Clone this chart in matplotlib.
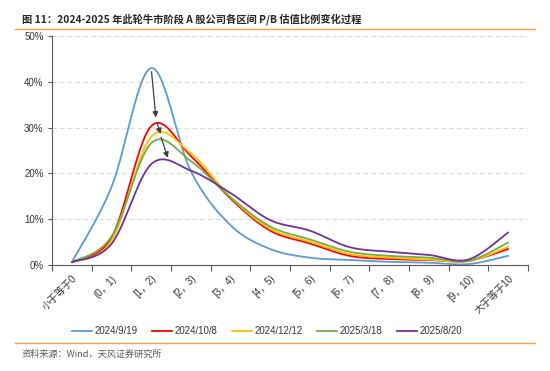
import numpy as np
import matplotlib
matplotlib.use("Agg")
import matplotlib.pyplot as plt
from matplotlib.lines import Line2D

plt.rcParams['font.family'] = ['Liberation Sans', 'Noto Sans CJK SC', 'DejaVu Sans']

# ---------- 数据 ----------
categories = ["小于等于0", "(0，1)", "[1，2)", "[2，3)", "[3，4)", "[4，5)",
              "[5，6)", "[6，7)", "[7，8)", "[8，9)", "[9，10)", "大于等于10"]

series_names = ["2024/9/19", "2024/10/8", "2024/12/12", "2025/3/18", "2025/8/20"]
colors = ["#5B9BD5", "#FF0000", "#FFC000", "#70AD47", "#7030A0"]

v_20240919 = [0.6, 17.0, 43.0, 20.5, 8.7, 3.5, 1.6, 1.1, 0.7, 0.5, 0.2, 2.0]
v_20241008 = [0.6, 6.0, 30.3, 23.8, 14.5, 7.5, 4.7, 2.0, 1.3, 1.1, 0.9, 3.5]
v_20241212 = [0.6, 5.3, 28.0, 24.4, 14.8, 7.9, 5.1, 2.4, 1.6, 1.2, 0.8, 4.0]
v_20250318 = [0.6, 6.2, 26.6, 22.7, 14.8, 8.4, 5.6, 2.9, 2.0, 1.6, 0.9, 4.9]
v_20250820 = [0.6, 4.6, 22.0, 20.6, 15.7, 9.8, 7.5, 3.9, 2.9, 2.2, 1.2, 7.1]
all_values = [v_20240919, v_20241008, v_20241212, v_20250318, v_20250820]


def smooth(y, n=30):
    # Excel 风格平滑线 (Catmull-Rom -> Bezier)
    x = np.arange(len(y), dtype=float)
    y = np.asarray(y, dtype=float) / 100
    xs, ys = [], []
    t = np.linspace(0, 1, n)
    for i in range(len(y) - 1):
        i0 = max(i - 1, 0)
        i3 = min(i + 2, len(y) - 1)
        p1 = np.array([x[i], y[i]])
        p2 = np.array([x[i + 1], y[i + 1]])
        c1 = p1 + (p2 - np.array([x[i0], y[i0]])) / 6
        c2 = p2 - (np.array([x[i3], y[i3]]) - p1) / 6
        b = ((1 - t) ** 3)[:, None] * p1 + (3 * (1 - t) ** 2 * t)[:, None] * c1 \
            + (3 * (1 - t) * t ** 2)[:, None] * c2 + (t ** 3)[:, None] * p2
        xs.extend(b[:, 0])
        ys.extend(b[:, 1])
    return np.array(xs), np.array(ys)


fig = plt.figure(figsize=(5.5, 3.71), dpi=100)
ax = fig.add_axes([0.0945, 0.2857, 0.8655, 0.6173])

for vals, c, name in zip(all_values, colors, series_names):
    xs, ys = smooth(vals)
    ax.plot(xs, ys, color=c, lw=1.3, label=name, solid_capstyle='round')

# 箭头
arrows = [((2.01, 0.422), (2.12, 0.322)),
          ((2.15, 0.310), (2.24, 0.286)),
          ((2.25, 0.279), (2.42, 0.234))]
for (x0, y0), (x1, y1) in arrows:
    ax.annotate("", xy=(x1, y1), xytext=(x0, y0),
                arrowprops=dict(arrowstyle="-|>", color="#404040", lw=0.9,
                                mutation_scale=8, shrinkA=0, shrinkB=0))

ax.set_xlim(-0.5, 11.5)
ax.set_ylim(0, 0.5)
ax.set_yticks(np.arange(0, 0.51, 0.1))
ax.set_yticklabels([f"{int(round(v * 100))}%" for v in np.arange(0, 0.51, 0.1)],
                   fontsize=7, color="#333333")
ax.set_xticks(np.arange(len(categories)))
ax.set_xticklabels(categories, rotation=45, ha='right', rotation_mode='anchor',
                   fontsize=7, color="#333333")
ax.set_xticks(np.arange(-0.5, 12, 1), minor=True)
ax.tick_params(axis='x', which='major', length=0, pad=6)
ax.tick_params(axis='x', which='minor', length=4, color="#595959", width=0.8)
ax.tick_params(axis='y', length=3, color="#595959", width=0.8, pad=3)

ax.grid(axis='y', color="#D9D9D9", ls=(0, (4, 3)), lw=0.8)
ax.set_axisbelow(True)
for s in ['top', 'right']:
    ax.spines[s].set_visible(False)
ax.spines['left'].set_color("#595959")
ax.spines['bottom'].set_color("#595959")
ax.spines['left'].set_linewidth(0.8)
ax.spines['bottom'].set_linewidth(0.8)

handles = [Line2D([0], [0], color=c, lw=1.3) for c in colors]
fig.legend(handles, series_names, loc='center', bbox_to_anchor=(267 / 550, 1 - 331 / 371),
           ncol=5, frameon=False, fontsize=6.9, handlelength=2.1, handletextpad=0.25,
           columnspacing=1.5, labelcolor="#333333")

# 标题和来源
fig.text(22 / 550, 1 - 19 / 371, "图 11：2024-2025 年此轮牛市阶段 A 股公司各区间 P/B 估值比例变化过程",
         fontsize=7.4, fontweight='bold', color="#262626", va='center',
         family=['Noto Sans CJK SC', 'DejaVu Sans'])
fig.add_artist(Line2D([15 / 550, 535 / 550], [1 - 29 / 371] * 2, color="#F5A04A", lw=1.0))
fig.add_artist(Line2D([15 / 550, 535 / 550], [1 - 343 / 371] * 2, color="#F5A04A", lw=1.0))
fig.text(22 / 550, 1 - 354 / 371, "资料来源：Wind，天风证券研究所", fontsize=6.6,
         color="#595959", va='center', family=['Noto Sans CJK SC', 'DejaVu Sans'])

fig.savefig("out.png", dpi=100)
